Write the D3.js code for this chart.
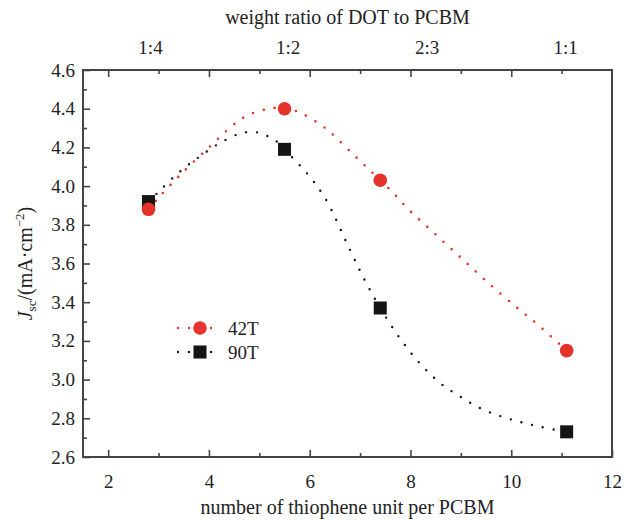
<!DOCTYPE html>
<html>
<head>
<meta charset="utf-8">
<script src="https://cdn.jsdelivr.net/npm/d3@7"></script>
<style>
  body { margin: 0; background: #fff; }
  svg text { font-family: "Liberation Serif", "Times New Roman", serif; fill: #222; }
</style>
</head>
<body>
<div id="chart"></div>
<script>
const MARGIN = { top: 70, right: 12, bottom: 63, left: 83 };

// measured points
const xPoints = [2.8, 5.5, 7.4, 11.1];
const y42T = [3.88, 4.40, 4.03, 3.15];
const y90T = [3.92, 4.19, 3.37, 2.73];

// dotted fit curves
const fit42X = [2.8, 3.0, 3.4, 4.0, 4.5, 4.8, 5.2, 5.5, 5.8, 6.2, 6.4, 6.8, 7.2, 7.6, 8.0, 8.5, 9.0, 9.5, 10.1, 10.5, 11.1];
const fit42Y = [3.88, 3.94, 4.05, 4.20, 4.32, 4.37, 4.40, 4.405, 4.38, 4.32, 4.28, 4.18, 4.08, 3.98, 3.87, 3.75, 3.63, 3.51, 3.375, 3.29, 3.15];
const fit90X = [2.8, 3.0, 3.4, 3.8, 4.2, 4.6, 4.9, 5.1, 5.3, 5.5, 5.7, 5.9, 6.3, 6.8, 7.1, 7.4, 7.8, 8.2, 8.6, 9.0, 9.4, 9.8, 10.2, 10.6, 11.1];
const fit90Y = [3.92, 3.97, 4.07, 4.15, 4.22, 4.27, 4.28, 4.265, 4.24, 4.19, 4.135, 4.08, 3.94, 3.67, 3.51, 3.37, 3.21, 3.08, 2.98, 2.91, 2.85, 2.81, 2.78, 2.755, 2.73];

// axes
const xMajor = [2, 4, 6, 8, 10, 12];
const xMinor = [3, 5, 7, 9, 11];
const yMajor = [2.6, 2.8, 3.0, 3.2, 3.4, 3.6, 3.8, 4.0, 4.2, 4.4, 4.6];
const yMinor = [2.7, 2.9, 3.1, 3.3, 3.5, 3.7, 3.9, 4.1, 4.3, 4.5];
const topLabels = ["1:4", "1:2", "2:3", "1:1"];
const topPos = [2.83, 5.56, 8.32, 11.07];

const seriesNames = ["42T", "90T"];
const RED = "#e5332b";
const BLACK = "#151515";

const W = 624, H = 520;
const width = W - MARGIN.left - MARGIN.right;
const height = H - MARGIN.top - MARGIN.bottom;

const svg = d3.select("#chart").append("svg")
  .attr("width", W)
  .attr("height", H);

const g = svg.append("g")
  .attr("transform", "translate(" + MARGIN.left + "," + MARGIN.top + ")");

const x = d3.scaleLinear().domain([1.5, 12]).range([0, width]);
const y = d3.scaleLinear().domain([2.6, 4.6]).range([height, 0]);

function styleAxis(sel) {
  sel.select(".domain").remove();
  sel.selectAll("line").attr("stroke", "#444").attr("stroke-width", 1.6);
  sel.selectAll("text").style("font-size", "19px").attr("fill", "#222");
}

// bottom
g.append("g").attr("transform", "translate(0," + height + ")")
  .call(d3.axisBottom(x).tickValues(xMajor).tickSize(-7).tickPadding(18))
  .call(styleAxis);
g.append("g").attr("transform", "translate(0," + height + ")")
  .call(d3.axisBottom(x).tickValues(xMinor).tickSize(-4).tickFormat(""))
  .call(styleAxis);

// top
g.append("g")
  .call(d3.axisTop(x).tickValues(xMajor.filter(d => d < 12)).tickSize(-7).tickFormat(""))
  .call(styleAxis);
g.append("g")
  .call(d3.axisTop(x).tickValues(xMinor).tickSize(-4).tickFormat(""))
  .call(styleAxis);
g.append("g")
  .call(d3.axisTop(x).tickValues(topPos).tickSize(0).tickPadding(16).tickFormat((d, i) => topLabels[i]))
  .call(styleAxis);

// left
g.append("g")
  .call(d3.axisLeft(y).tickValues(yMajor).tickSize(-7).tickPadding(8).tickFormat(d3.format(".1f")))
  .call(styleAxis);
g.append("g")
  .call(d3.axisLeft(y).tickValues(yMinor).tickSize(-4).tickFormat(""))
  .call(styleAxis);

// frame
g.append("rect")
  .attr("width", width)
  .attr("height", height)
  .attr("fill", "none")
  .attr("stroke", "#444")
  .attr("stroke-width", 2);

// titles
svg.append("text")
  .attr("x", MARGIN.left + width / 2)
  .attr("y", 24)
  .attr("text-anchor", "middle")
  .style("font-size", "20px")
  .text("weight ratio of DOT to PCBM");

svg.append("text")
  .attr("x", MARGIN.left + width / 2)
  .attr("y", 514)
  .attr("text-anchor", "middle")
  .style("font-size", "20px")
  .text("number of thiophene unit per PCBM");

const yl = svg.append("text")
  .attr("transform", "translate(32," + (MARGIN.top + height / 2) + ") rotate(-90)")
  .attr("text-anchor", "middle")
  .style("font-size", "20px");
yl.append("tspan").style("font-style", "italic").text("J");
yl.append("tspan").attr("dy", 4).style("font-size", "13px").text("sc");
yl.append("tspan").attr("dy", -4).text("/(mA·cm");
yl.append("tspan").attr("dy", -8).style("font-size", "13px").text("−2");
yl.append("tspan").attr("dy", 8).text(")");

// curves
const line = d3.line()
  .x(d => x(d[0]))
  .y(d => y(d[1]))
  .curve(d3.curveCatmullRom.alpha(0.5));

const fit42 = fit42X.map((d, i) => [d, fit42Y[i]]);
const fit90 = fit90X.map((d, i) => [d, fit90Y[i]]);

g.append("path").datum(fit42)
  .attr("d", line)
  .attr("fill", "none")
  .attr("stroke", RED)
  .attr("stroke-width", 2.6)
  .attr("stroke-linecap", "round")
  .attr("stroke-dasharray", "0,11");

g.append("path").datum(fit90)
  .attr("d", line)
  .attr("fill", "none")
  .attr("stroke", BLACK)
  .attr("stroke-width", 2.4)
  .attr("stroke-linecap", "round")
  .attr("stroke-dasharray", "0,11");

// markers
g.selectAll(".sq")
  .data(xPoints.map((d, i) => [d, y90T[i]]))
  .join("rect")
  .attr("class", "sq")
  .attr("x", d => x(d[0]) - 6.5)
  .attr("y", d => y(d[1]) - 6.5)
  .attr("width", 13)
  .attr("height", 13)
  .attr("fill", BLACK);

g.selectAll(".dot")
  .data(xPoints.map((d, i) => [d, y42T[i]]))
  .join("circle")
  .attr("class", "dot")
  .attr("cx", d => x(d[0]))
  .attr("cy", d => y(d[1]))
  .attr("r", 6.8)
  .attr("fill", RED);

// legend
const legend = svg.append("g").attr("transform", "translate(178,328)");
seriesNames.forEach(function(name, i) {
  const row = legend.append("g").attr("transform", "translate(0," + (i * 24) + ")");
  const col = i === 0 ? RED : BLACK;
  row.append("line")
    .attr("x1", 0).attr("x2", 42)
    .attr("stroke", col)
    .attr("stroke-width", 2.4)
    .attr("stroke-linecap", "round")
    .attr("stroke-dasharray", "0,11");
  if (i === 0) {
    row.append("circle").attr("cx", 22).attr("r", 6.8).attr("fill", col);
  } else {
    row.append("rect").attr("x", 15.5).attr("y", -6.5).attr("width", 13).attr("height", 13).attr("fill", col);
  }
  row.append("text")
    .attr("x", 50)
    .attr("y", 7)
    .style("font-size", "19px")
    .text(name);
});
</script>
</body>
</html>
